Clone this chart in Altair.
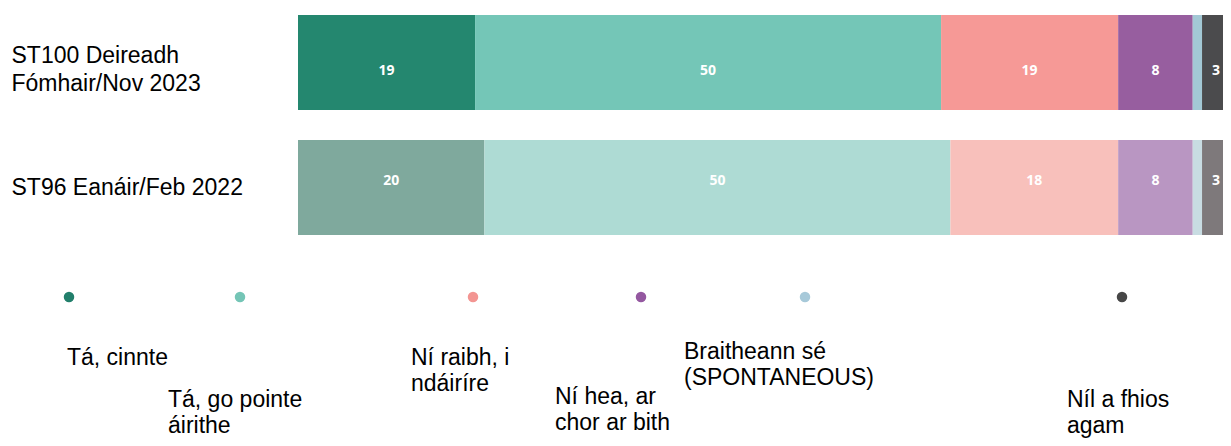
import altair as alt
import pandas as pd

# ---- data -------------------------------------------------------------
surveys = ["ST100 Deireadh\nFómhair/Nov 2023", "ST96 Eanáir/Feb 2022"]
categories = [
    "Tá, cinnte",
    "Tá, go pointe áirithe",
    "Ní raibh, i ndáiríre",
    "Ní hea, ar chor ar bith",
    "Braitheann sé (SPONTANEOUS)",
    "Níl a fhios agam",
]
legend_labels = [
    "Tá, cinnte",
    "Tá, go pointe\náirithe",
    "Ní raibh, i\nndáiríre",
    "Ní hea, ar\nchor ar bith",
    "Braitheann sé\n(SPONTANEOUS)",
    "Níl a fhios\nagam",
]
values_nov2023 = [19, 50, 19, 8, 1, 3]
values_feb2022 = [20, 50, 18, 8, 1, 3]

# ---- styling ------------------------------------------------------------
colors_nov2023 = ["#24876F", "#74C6B7", "#F69996", "#975E9F", "#A3C8D5", "#4B4B4D"]
colors_feb2022 = ["#7FA99D", "#AEDBD4", "#F8C0BB", "#B996C2", "#C8DCE2", "#7E797B"]
dot_colors = ["#227F6B", "#74C5B6", "#F39592", "#9458A0", "#A7C9D9", "#474747"]

# layout (pixel positions inside the svg)
bar_x_range = [290, 1222]
bar_y_range = [7, 227]
dot_x = [61, 232, 465, 633, 797, 1114]
dot_y = [289, 289]
label_x = [59, 160, 403, 547, 676, 1059]
label_y = [357, 399, 357, 396, 351, 399]

FONT = "Liberation Sans"

rows = []
for s, vals in [(surveys[0], values_nov2023), (surveys[1], values_feb2022)]:
    for i, (c, v) in enumerate(zip(categories, vals)):
        rows.append({"survey": s, "cat": c, "idx": i, "value": v, "key": f"{s}|{c}"})
df = pd.DataFrame(rows)
keys = list(df["key"])
key_colors = colors_nov2023 + colors_feb2022

legend_df = pd.DataFrame({
    "cat": categories,
    "label": legend_labels,
    "idx": list(range(len(categories))),
})

xscale = alt.Scale(domain=[0, 100], range=bar_x_range, nice=False, zero=False)
yscale = alt.Scale(domain=surveys, range=bar_y_range, paddingInner=0.24, paddingOuter=0)

base = alt.Chart(df).transform_window(
    end="sum(value)", groupby=["survey"], sort=[alt.SortField("idx")], frame=[None, 0]
).transform_calculate(
    start="datum.end - datum.value",
    mid="datum.end - datum.value / 2",
)

bars = base.mark_bar().encode(
    x=alt.X("start:Q", scale=xscale, axis=None),
    x2="end:Q",
    y=alt.Y(
        "survey:N",
        scale=yscale,
        title=None,
        axis=alt.Axis(
            orient="left",
            offset=-3,
            labelPadding=0,
            ticks=False,
            domain=False,
            labelAlign="left",
            labelBaseline=alt.condition(
                "indexof(datum.value, 'ST100') >= 0",
                alt.value("alphabetic"),
                alt.value("middle"),
            ),
            labelExpr="split(datum.label, '\\n')",
            labelFont=FONT,
            labelFontSize=23,
            labelColor="#000000",
            labelLineHeight=28.7,
            labelLimit=0,
        ),
    ),
    color=alt.Color("key:N", scale=alt.Scale(domain=keys, range=key_colors), legend=None),
)

value_text = base.transform_filter("datum.value >= 2").mark_text(
    color="white", font="Open Sans", fontWeight="bold", fontSize=14, baseline="middle", dy=1
).encode(
    x=alt.X("mid:Q", scale=xscale, axis=None),
    y=alt.Y("survey:N", scale=yscale, axis=None),
    text="value:Q",
)

legend_dots = alt.Chart(legend_df).mark_circle(size=110, opacity=1).encode(
    x=alt.X("idx:Q", scale=alt.Scale(domain=list(range(6)), range=dot_x, nice=False, zero=False), axis=None),
    y=alt.Y("idx:Q", scale=alt.Scale(domain=[0, 5], range=dot_y, nice=False, zero=False), axis=None),
    color=alt.Color("cat:N", scale=alt.Scale(domain=categories, range=dot_colors), legend=None),
)

legend_text = alt.Chart(legend_df).mark_text(
    align="left", baseline="alphabetic", lineBreak="\n", font=FONT, fontSize=23,
    lineHeight=26, color="#000000",
).encode(
    x=alt.X("idx:Q", scale=alt.Scale(domain=list(range(6)), range=label_x, nice=False, zero=False), axis=None),
    y=alt.Y("idx:Q", scale=alt.Scale(domain=list(range(6)), range=label_y, nice=False, zero=False), axis=None),
    text="label:N",
)

chart = alt.layer(bars, value_text, legend_dots, legend_text).resolve_scale(
    x="independent", y="independent", color="independent"
).properties(
    width=1215,
    height=430,
    autosize=alt.AutoSizeParams(type="none"),
    padding=0,
    background="white",
).configure_view(stroke=None)

chart.save("out.html", embed_options={"renderer": "svg", "actions": False})
